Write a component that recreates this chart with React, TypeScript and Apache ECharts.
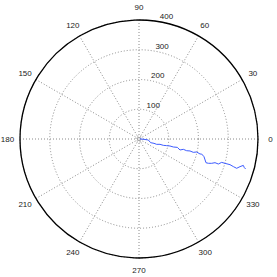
import React, { useEffect, useRef } from "react";
import * as echarts from "echarts";

// Walk radius values (r) and angles in degrees (theta)
const radii = [3, 16.8, 31.5, 41.1, 52.5, 62.0, 72.8, 84.5, 95.7, 106.8, 118.5, 131.9, 142.7, 153.0, 165.0, 176.1, 188.0, 198.7, 211.2, 216.6, 226.4, 238.9, 247.0, 257.6, 267.6, 279.6, 288.7, 300.4, 317.8, 330.4, 342.8, 352.0, 361.7, 366.9, 372.4];
const thetas = [10, 356.2, 353.9, 342.5, 343.9, 343.2, 345.8, 345.4, 346.5, 347.3, 346.9, 347.7, 345.0, 346.9, 346.2, 346.8, 346.2, 347.3, 346.2, 346.5, 344.8, 340.5, 340.7, 341.5, 342.7, 342.5, 344.2, 344.2, 344.25, 343.7, 343.3, 344.7, 345.8, 344.8, 344.3];

const angleTicks = [0, 30, 60, 90, 120, 150, 180, 210, 240, 270, 300, 330];
const radiusTicks = [0, 100, 200, 300, 400];

const FONT = "'Liberation Sans', Arial, Helvetica, sans-serif";
const FS = 8;
const TEXT = "#222";

export default function App() {
  const ref = useRef<HTMLDivElement>(null);
  useEffect(() => {
    if (!ref.current) return;
    const chart = echarts.init(ref.current, undefined, { renderer: "svg" });
    const cx = 139, cy = 139, R = 119;
    const D = 12.5; // label centre distance beyond the circle
    const digitW = FS * 0.556;
    const halfH = FS / 2;
    const rich: Record<string, any> = {};
    angleTicks.forEach((v) => {
      const a = (v * Math.PI) / 180;
      const c = Math.cos(a), s = Math.sin(a);
      const w = String(v).length * digitW;
      const dx = D * c;
      const dy = -D * s;
      let pl = 0, pr = 0, pt = 0, pb = 0;
      if (Math.abs(c) >= 0.3) {
        if (c > 0) pl = Math.max(0, dx - w / 2);
        else pr = Math.max(0, -dx - w / 2);
      }
      if (Math.abs(s) >= 0.3) {
        if (dy < 0) pb = Math.max(0, -dy - halfH);
        else pt = Math.max(0, dy - halfH);
      }
      rich["s" + v] = {
        fontSize: FS,
        fontFamily: FONT,
        color: TEXT,
        padding: [pt, pr, pb, pl],
      };
    });

    const dotted = { color: "#8a8a8a", width: 1, type: [1, 2] as any };

    chart.setOption({
      animation: false,
      polar: [
        { center: [cx, cy], radius: R },
        { center: [cx, cy], radius: R },
      ],
      angleAxis: [
        {
          polarIndex: 0,
          type: "value",
          min: 0,
          max: 360,
          interval: 30,
          startAngle: 0,
          clockwise: false,
          axisLine: { show: true, lineStyle: { color: "#000", width: 1.3 } },
          axisTick: { show: false },
          splitLine: { show: true, lineStyle: dotted },
          axisLabel: {
            show: true,
            margin: 0,
            fontSize: FS,
            fontFamily: FONT,
            color: TEXT,
            formatter: (v: number) => (v >= 360 ? "" : `{s${v}|${v}}`),
            rich,
          },
        },
        {
          polarIndex: 1,
          type: "value",
          min: 0,
          max: 360,
          startAngle: 81.5,
          clockwise: false,
          axisLine: { show: false },
          axisTick: { show: false },
          axisLabel: { show: false },
          splitLine: { show: false },
        },
      ],
      radiusAxis: [
        {
          polarIndex: 0,
          type: "value",
          min: radiusTicks[0],
          max: radiusTicks[radiusTicks.length - 1],
          interval: 100,
          axisLine: { show: false },
          axisTick: { show: false },
          axisLabel: { show: false },
          splitLine: { show: true, lineStyle: dotted },
        },
        {
          polarIndex: 1,
          type: "value",
          min: radiusTicks[0],
          max: radiusTicks[radiusTicks.length - 1],
          interval: 100,
          axisLine: { show: false },
          axisTick: { show: false },
          splitLine: { show: false },
          axisLabel: {
            show: true,
            margin: -10,
            align: "center",
            verticalAlign: "bottom",
            lineHeight: 12,
            fontSize: FS,
            fontFamily: FONT,
            color: TEXT,
            formatter: (v: number) => (v === 0 ? "" : String(v)),
          },
        },
      ],
      graphic: [
        {
          type: "circle",
          shape: { cx, cy, r: 3 },
          style: { fill: "none", stroke: "#8a8a8a", lineWidth: 1, lineDash: [1, 2] },
          silent: true,
          z: 0,
        },
      ],
      series: [
        {
          type: "line",
          coordinateSystem: "polar",
          polarIndex: 0,
          showSymbol: false,
          symbol: "none",
          lineStyle: { color: "#3d5cff", width: 1 },
          data: radii.map((r, i) => [r, thetas[i]]),
          z: 5,
        },
      ],
    });
    return () => chart.dispose();
  }, []);
  return (
    <div
      ref={ref}
      style={{ position: "fixed", left: 0, top: 0, width: 277, height: 277, background: "#fff" }}
    />
  );
}
